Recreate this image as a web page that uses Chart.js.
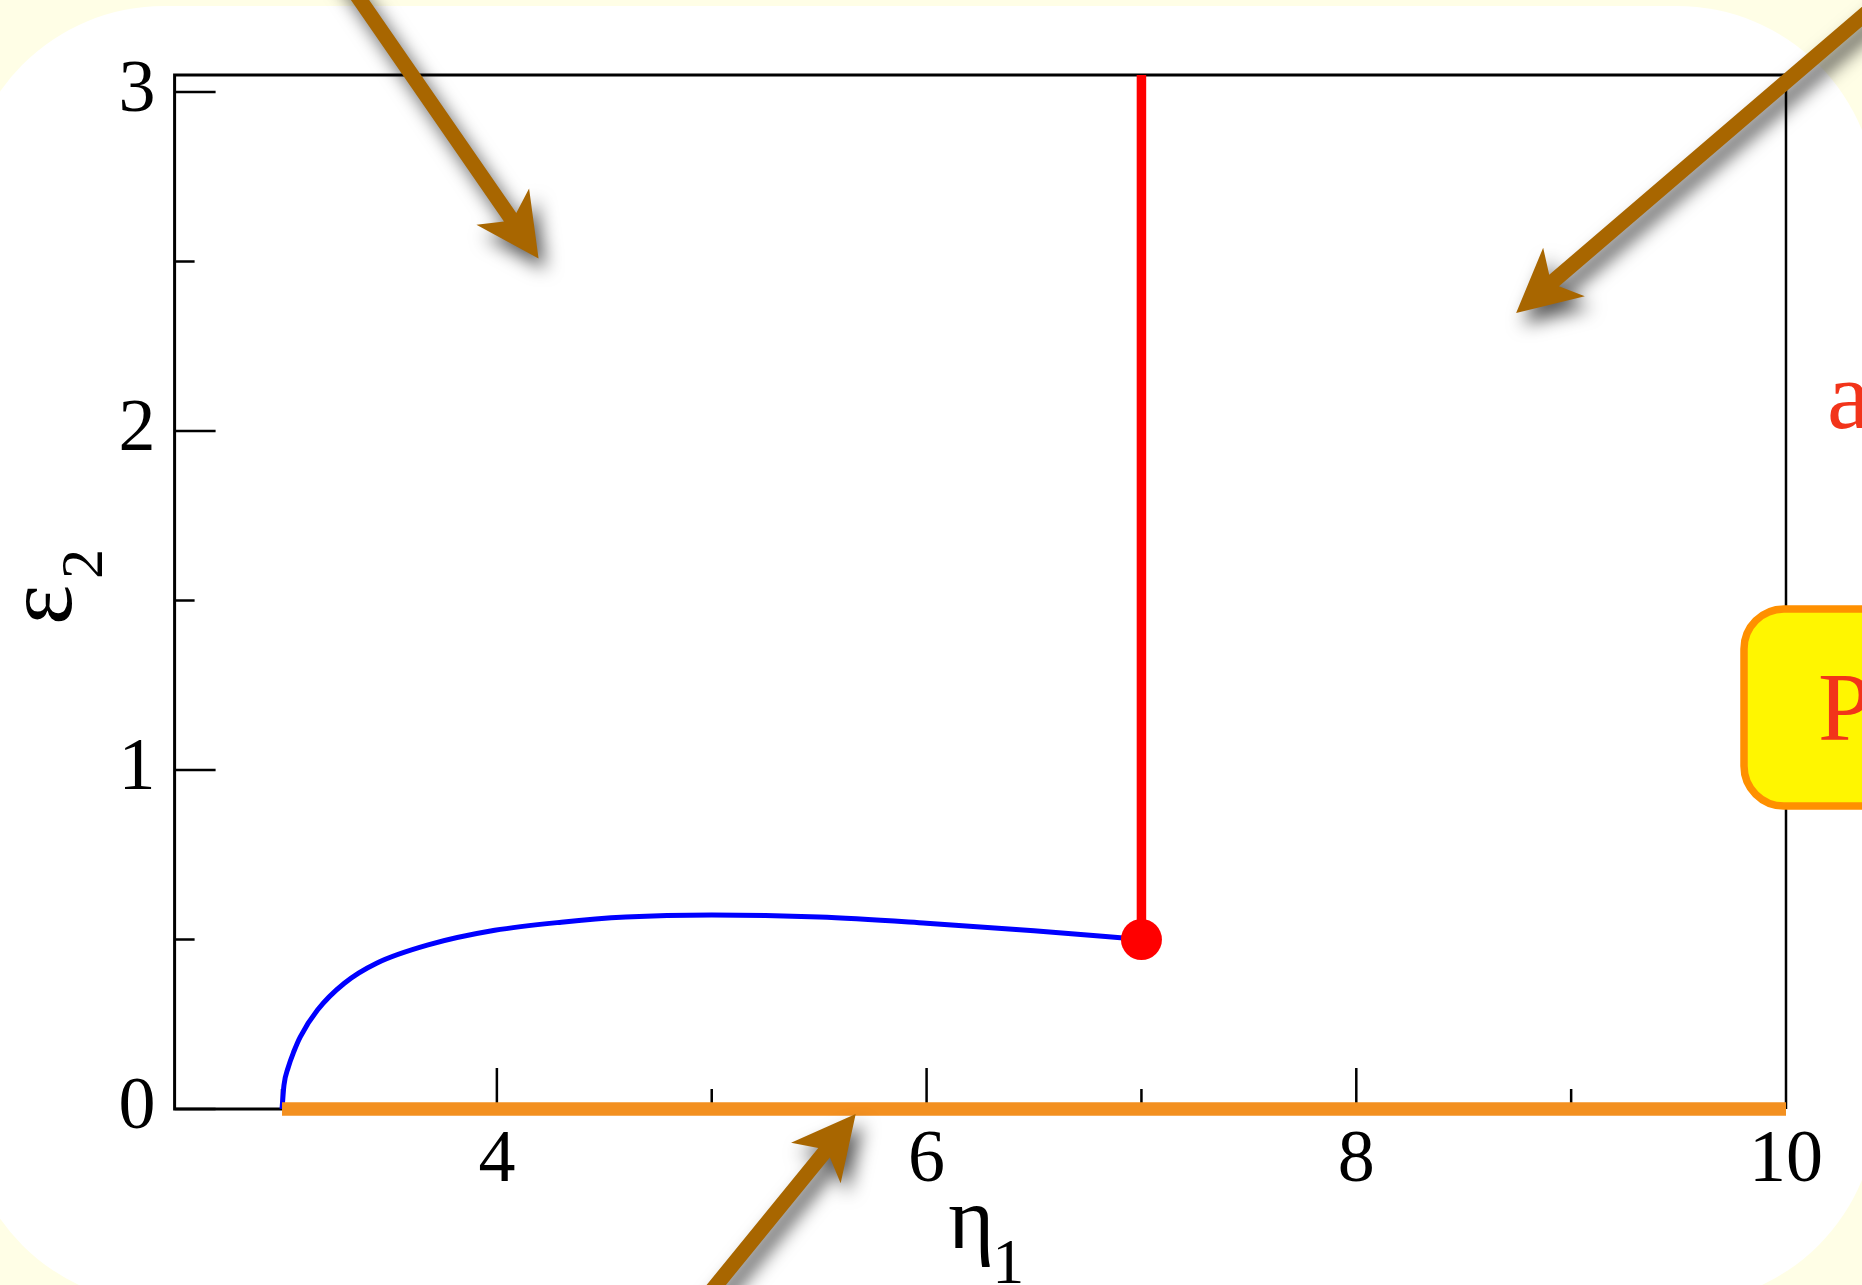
<!DOCTYPE html>
<html>
<head>
<meta charset="utf-8">
<script src="https://cdn.jsdelivr.net/npm/chart.js@4.4.0/dist/chart.umd.min.js"></script>
<style>
  html, body { margin: 0; padding: 0; background: #fffee6; }
  #wrap { width: 1862px; height: 1285px; position: relative; }
</style>
</head>
<body>
<div id="wrap"><canvas id="chart"></canvas></div>
<script>
// blue branch eps2(eta1)
const blueEta = [3.0, 3.009, 3.028, 3.056, 3.085, 3.165, 3.29, 3.44, 3.68, 3.99, 4.3, 4.6, 5.0, 5.5, 6.0, 6.5, 7.0];
const blueEps = [0, 0.07, 0.121, 0.171, 0.213, 0.292, 0.371, 0.43, 0.484, 0.527, 0.551, 0.566, 0.572, 0.566, 0.548, 0.526, 0.5];

// red vertical line and end point
const redEta = [7, 7];
const redEps = [0.5, 3.05];

// orange segment on the axis
const orangeEta = [3, 10];
const orangeEps = [0, 0];

// axis ticks
const xMajor = [4, 6, 8, 10];
const xMinor = [3, 5, 7, 9];
const yMajor = [0, 1, 2, 3];
const yMinor = [0.5, 1.5, 2.5];

// arrows (tail -> tip) in axis units
const arrowTail = [[3.19, 3.43], [10.51, 3.307], [4.935, -0.586]];
const arrowTip = [[4.194, 2.509], [8.744, 2.348], [5.670, -0.015]];

const serif = '"Liberation Serif", "Times New Roman", serif';

function pts(xs, ys) {
  return xs.map((v, i) => ({ x: v, y: ys[i] }));
}

function drawArrow(ctx, x0, y0, x1, y1) {
  const len = Math.hypot(x1 - x0, y1 - y0);
  const dx = (x1 - x0) / len, dy = (y1 - y0) / len;
  const nx = -dy, ny = dx;
  const w = 7.5, L = 63, H = 32, nb = 50;
  const p = (a, b) => [x1 - dx * a + nx * b, y1 - dy * a + ny * b];
  const poly = [
    [x0 + nx * w, y0 + ny * w],
    p(nb, w), p(L, H), [x1, y1], p(L, -H), p(nb, -w),
    [x0 - nx * w, y0 - ny * w]
  ];
  ctx.beginPath();
  poly.forEach((q, i) => i ? ctx.lineTo(q[0], q[1]) : ctx.moveTo(q[0], q[1]));
  ctx.closePath();
  ctx.fill();
}

const decor = {
  id: 'decor',
  beforeDraw(chart) {
    const ctx = chart.ctx;
    ctx.save();
    ctx.fillStyle = '#fffee6';
    ctx.fillRect(0, 0, chart.width, chart.height);
    ctx.fillStyle = '#ffffff';
    ctx.beginPath();
    ctx.roundRect(-36, 6, 1913, 1298, 200);
    ctx.fill();
    ctx.restore();
  },
  beforeDatasetsDraw(chart) {
    const { ctx, chartArea: a, scales: { x, y } } = chart;
    ctx.save();
    ctx.strokeStyle = '#000';
    ctx.lineWidth = 3;
    ctx.beginPath();
    ctx.moveTo(a.right, a.top);
    ctx.lineTo(a.left, a.top);
    ctx.lineTo(a.left, a.bottom);
    ctx.lineTo(a.right, a.bottom);
    ctx.stroke();
    ctx.lineWidth = 2.5;
    ctx.beginPath();
    ctx.moveTo(a.right, a.top);
    ctx.lineTo(a.right, a.bottom);
    // ticks point inward
    xMajor.forEach(v => { const px = x.getPixelForValue(v); ctx.moveTo(px, a.bottom); ctx.lineTo(px, a.bottom - 41); });
    xMinor.forEach(v => { const px = x.getPixelForValue(v); ctx.moveTo(px, a.bottom); ctx.lineTo(px, a.bottom - 20); });
    yMajor.forEach(v => { const py = y.getPixelForValue(v); ctx.moveTo(a.left, py); ctx.lineTo(a.left + 41, py); });
    yMinor.forEach(v => { const py = y.getPixelForValue(v); ctx.moveTo(a.left, py); ctx.lineTo(a.left + 20, py); });
    ctx.stroke();
    ctx.restore();
  },
  afterDraw(chart) {
    const { ctx, chartArea: a, scales: { x, y } } = chart;
    ctx.save();
    ctx.fillStyle = '#000';
    ctx.textAlign = 'left';
    ctx.textBaseline = 'alphabetic';

    // x title: eta_1
    const cx = (a.left + a.right) / 2;
    ctx.font = '88px ' + serif;
    ctx.fillText('η', cx - 32, 1248);
    ctx.font = '64px ' + serif;
    ctx.fillText('1', cx + 12, 1283);

    // y title: eps_2
    ctx.save();
    ctx.translate(71, 625);
    ctx.rotate(-Math.PI / 2);
    ctx.font = '96px ' + serif;
    ctx.fillText('ε', 0, 0);
    ctx.font = '60px ' + serif;
    ctx.fillText('2', 46, 31);
    ctx.restore();

    // side labels
    ctx.fillStyle = '#f2341a';
    ctx.font = '98px ' + serif;
    ctx.fillText('a', 1827, 428);

    ctx.beginPath();
    ctx.roundRect(1744, 609, 300, 197, 40);
    ctx.fillStyle = '#fff600';
    ctx.fill();
    ctx.lineWidth = 7.5;
    ctx.strokeStyle = '#ff9000';
    ctx.stroke();
    ctx.fillStyle = '#f2341a';
    ctx.font = '97px ' + serif;
    ctx.fillText('P', 1818, 740);

    // arrows
    ctx.fillStyle = '#a86600';
    ctx.shadowColor = 'rgba(0,0,0,0.65)';
    ctx.shadowBlur = 18;
    ctx.shadowOffsetX = 7;
    ctx.shadowOffsetY = 11;
    arrowTail.forEach((t, i) => {
      const h = arrowTip[i];
      drawArrow(ctx, x.getPixelForValue(t[0]), y.getPixelForValue(t[1]),
                x.getPixelForValue(h[0]), y.getPixelForValue(h[1]));
    });
    ctx.restore();
  }
};

const chart = new Chart(document.getElementById('chart'), {
  type: 'line',
  data: {
    datasets: [
      {
        data: pts(orangeEta, orangeEps),
        borderColor: '#f39020',
        borderWidth: 13.5,
        pointRadius: 0,
        clip: 20,
        order: 0
      },
      {
        data: pts(redEta.slice(0, 1), redEps.slice(0, 1)),
        showLine: false,
        pointRadius: 20.5,
        pointBackgroundColor: '#ff0000',
        pointBorderWidth: 0,
        clip: 30,
        order: 1
      },
      {
        data: pts(redEta, redEps),
        borderColor: '#ff0000',
        borderWidth: 9.5,
        pointRadius: 0,
        order: 2
      },
      {
        data: pts(blueEta, blueEps),
        borderColor: '#0000ff',
        borderWidth: 5,
        pointRadius: 0,
        cubicInterpolationMode: 'monotone',
        order: 3
      }
    ]
  },
  options: {
    responsive: true,
    maintainAspectRatio: false,
    animation: false,
    layout: { padding: { top: 75, right: 76, left: 0, bottom: 0 } },
    plugins: { legend: { display: false }, tooltip: { enabled: false } },
    scales: {
      x: {
        type: 'linear',
        min: 2.5,
        max: 10,
        afterBuildTicks: s => { s.ticks = xMajor.map(v => ({ value: v })); },
        afterFit: s => { s.height = 176; },
        grid: { display: false, drawTicks: false },
        border: { display: false },
        ticks: { font: { family: serif, size: 74 }, color: '#000', padding: 8, maxRotation: 0, autoSkip: false }
      },
      y: {
        type: 'linear',
        min: 0,
        max: 3.05,
        afterBuildTicks: s => { s.ticks = yMajor.map(v => ({ value: v })); },
        afterFit: s => { s.width = 174.6; },
        grid: { display: false, drawTicks: false },
        border: { display: false },
        ticks: { font: { family: serif, size: 74 }, color: '#000', padding: 19, autoSkip: false }
      }
    }
  },
  plugins: [decor]
});
</script>
</body>
</html>
